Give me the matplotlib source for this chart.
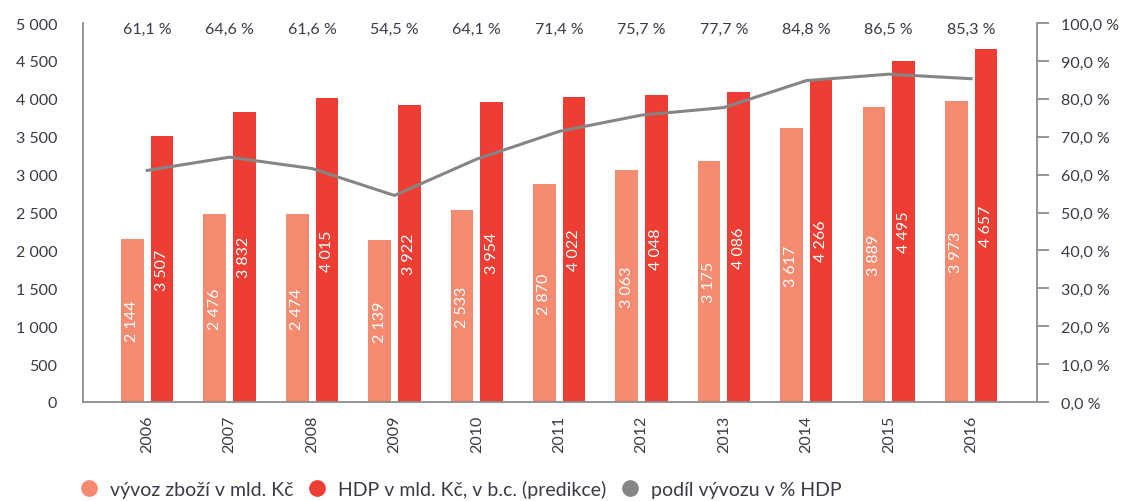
import matplotlib
matplotlib.use("Agg")
import matplotlib.pyplot as plt
import numpy as np
from matplotlib.lines import Line2D

plt.rcParams['font.family'] = ['Lato', 'DejaVu Sans']

years = ['2006', '2007', '2008', '2009', '2010', '2011', '2012', '2013', '2014', '2015', '2016']
export = [2144, 2476, 2474, 2139, 2533, 2870, 3063, 3175, 3617, 3889, 3973]
gdp = [3507, 3832, 4015, 3922, 3954, 4022, 4048, 4086, 4266, 4495, 4657]
share = [61.1, 64.6, 61.6, 54.5, 64.1, 71.4, 75.7, 77.7, 84.8, 86.5, 85.3]

c_export = '#F48A70'
c_gdp = '#EE3D33'
c_line = '#858585'
c_text = '#3a3a46'
c_axis = '#8c8c8c'

def fmt_int(v):
    return f"{int(v):,}".replace(',', ' ')

def fmt_pct(v):
    return f"{v:.1f}".replace('.', ',') + ' %'

fig = plt.figure(figsize=(11.26, 5.02), dpi=100)
ax = fig.add_axes([83/1126, 1-403/502, (1037-83)/1126, (403-24)/502])
x = np.arange(len(years))
w = 0.275
off = 0.18
ax.bar(x - off, export, width=w, color=c_export, zorder=2)
ax.bar(x + off, gdp, width=w, color=c_gdp, zorder=2)

for xi, v in zip(x - off, export):
    ax.text(xi, v/2, fmt_int(v), rotation=90, ha='center', va='center',
            color='white', fontsize=11.5, zorder=3)
for xi, v in zip(x + off, gdp):
    ax.text(xi, v/2, fmt_int(v), rotation=90, ha='center', va='center',
            color='white', fontsize=11.5, zorder=3)

ax.set_xlim(-0.78, 10.8)
ax.set_ylim(0, 5000)
ax.set_yticks(np.arange(0, 5001, 500))
ax.set_yticklabels([fmt_int(v) for v in np.arange(0, 5001, 500)])
ax.set_xticks(x)
ax.set_xticklabels(years, rotation=90)
ax.tick_params(axis='x', length=0, pad=9, labelsize=11.5, colors=c_text)
ax.tick_params(axis='y', length=0, pad=18.5, labelsize=11.5, colors=c_text)
for s in ['top', 'right']:
    ax.spines[s].set_visible(False)
for s in ['left', 'bottom']:
    ax.spines[s].set_color(c_axis)
    ax.spines[s].set_linewidth(1.3)

ax2 = ax.twinx()
ax2.set_ylim(0, 100)
ax2.plot(x, share, color=c_line, linewidth=2.2, zorder=4)
ax2.set_yticks(np.arange(0, 101, 10))
ax2.set_yticklabels([fmt_pct(v) for v in np.arange(0, 101, 10)])
ax2.tick_params(axis='y', length=8.6, width=1.3, color=c_axis, pad=9,
                labelsize=11.5, labelcolor=c_text)
for s in ['top', 'left', 'bottom']:
    ax2.spines[s].set_visible(False)
ax2.spines['right'].set_color(c_axis)
ax2.spines['right'].set_linewidth(1.3)

for xi, v in zip(x, share):
    ax.text(xi, 0.984, fmt_pct(v), transform=ax.get_xaxis_transform(),
            ha='center', va='center', color=c_text, fontsize=11.5)

handles = [
    Line2D([], [], marker='o', linestyle='none', markersize=11, color=c_export),
    Line2D([], [], marker='o', linestyle='none', markersize=11, color=c_gdp),
    Line2D([], [], marker='o', linestyle='none', markersize=11, color=c_line),
]
labels = ['vývoz zboží v mld. Kč', 'HDP v mld. Kč, v b.c. (predikce)', 'podíl vývozu v % HDP']
fig.legend(handles, labels, loc='center left', bbox_to_anchor=(79/1126, 1-490/502),
           ncol=3, frameon=False, fontsize=14, handletextpad=0.6,
           columnspacing=0.7, handlelength=1.0, labelcolor=c_text,
           borderaxespad=0, borderpad=0)

fig.savefig('out.png', dpi=100)
